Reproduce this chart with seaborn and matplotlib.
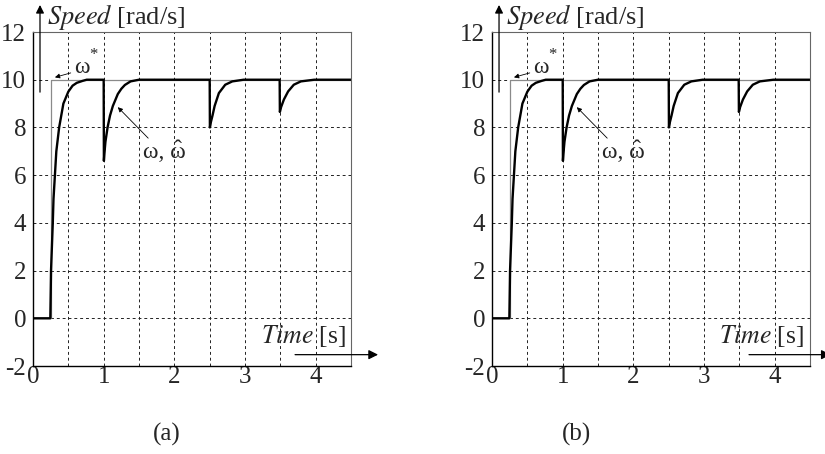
import matplotlib
matplotlib.use("Agg")
import matplotlib.pyplot as plt
import matplotlib.transforms as mtransforms
import seaborn as sns
import pandas as pd

# Speed reference (step command) and measured/estimated speed response
t_ref = [0.0, 0.25, 0.25, 4.5]
w_ref = [0.0, 0.0, 10.0, 10.0]

t_speed = [0.0, 0.245, 0.255, 0.28, 0.29, 0.31, 0.33, 0.37, 0.43, 0.50, 0.56, 0.62, 0.70, 0.76, 1.00,
           1.003, 1.01, 1.025, 1.055, 1.09, 1.13, 1.20, 1.25, 1.30, 1.38, 1.50,
           2.50, 2.503, 2.515, 2.54, 2.57, 2.63, 2.72, 2.82, 2.98,
           3.49, 3.493, 3.51, 3.55, 3.61, 3.69, 3.79, 3.98, 4.5]
w_speed = [0.0, 0.0, 2.0, 4.0, 5.0, 6.0, 7.0, 8.0, 9.0, 9.5, 9.75, 9.87, 9.95, 10.0, 10.0,
           6.6, 6.9, 7.4, 8.0, 8.5, 8.9, 9.4, 9.62, 9.78, 9.93, 10.0,
           10.0, 8.0, 8.2, 8.5, 8.9, 9.44, 9.79, 9.93, 10.0,
           10.0, 8.65, 8.85, 9.17, 9.51, 9.79, 9.93, 10.0, 10.0]

x_ticks = [0, 1, 2, 3, 4]
x_grid = [0.5, 1.5, 2.5, 3.5]
y_ticks = [-2, 0, 2, 4, 6, 8, 10, 12]
panel_tags = ["(a)", "(b)"]

sns.set_style("white")
plt.rcParams["font.family"] = ["Liberation Serif", "DejaVu Serif"]
plt.rcParams["mathtext.fontset"] = "stix"

ref_df = pd.DataFrame({"t": t_ref, "w": w_ref})
speed_df = pd.DataFrame({"t": t_speed, "w": w_speed})

fig = plt.figure(figsize=(8.25, 4.54), dpi=100)
lefts = [0.040, 0.5964]
arrow_x_end = [1.085, 1.065]
time_x = [0.718, 0.714]
tag_x = [0.202, 0.699]

est_labels = []
for i, left in enumerate(lefts):
    ax = fig.add_axes([left, 0.1938, 0.3855, 0.7357])
    sns.lineplot(data=ref_df, x="t", y="w", ax=ax, color="#8a8a8a", lw=0.9,
                 estimator=None, sort=False)
    sns.lineplot(data=speed_df, x="t", y="w", ax=ax, color="black", lw=1.7,
                 estimator=None, sort=False)

    ax.set_xlim(0, 4.5)
    ax.set_ylim(-2, 12)
    ax.set_xticks(x_ticks)
    ax.set_xticks(x_grid, minor=True)
    ax.set_yticks(y_ticks)
    ax.set_xticklabels([str(v) for v in x_ticks], fontsize=18)
    ax.set_yticklabels([str(v) for v in y_ticks], fontsize=18)
    ax.tick_params(axis="both", which="both", length=0)
    ax.tick_params(axis="x", pad=0)
    ax.tick_params(axis="y", pad=5)
    ax.set_xlabel("")
    ax.set_ylabel("")
    ax.grid(True, which="both", color="#222222", lw=0.7, linestyle=(0, (3, 3)))
    ax.set_axisbelow(True)
    for side in ["left", "bottom"]:
        ax.spines[side].set_color("black")
        ax.spines[side].set_linewidth(1.0)
    for side in ["top", "right"]:
        ax.spines[side].set_color("#666666")
        ax.spines[side].set_linewidth(0.8)

    # axis arrows and axis titles
    ax.annotate("", xy=(0.022, 1.081), xytext=(0.022, 0.82), xycoords="axes fraction",
                textcoords="axes fraction",
                arrowprops=dict(arrowstyle="-|>", color="black", lw=0.9,
                                mutation_scale=12, shrinkA=0, shrinkB=0),
                annotation_clip=False)
    ax.text(0.045, 1.045, r"$\mathit{Speed}$ [rad/s]", transform=ax.transAxes,
            fontsize=19, ha="left", va="center", clip_on=False)
    ax.annotate("", xy=(arrow_x_end[i], 0.034), xytext=(0.824 - 0.016 * i, 0.034),
                xycoords="axes fraction", textcoords="axes fraction",
                arrowprops=dict(arrowstyle="-|>", color="black", lw=0.9,
                                mutation_scale=14, shrinkA=0, shrinkB=0),
                annotation_clip=False)
    ax.text(time_x[i], 0.09, r"$\mathit{Time}$ [s]", transform=ax.transAxes,
            fontsize=18.5, ha="left", va="center", clip_on=False)

    # curve labels
    ax.annotate("ω", xy=(0.31, 10.1), xytext=(0.58, 10.5),
                fontsize=17, ha="left", va="center",
                arrowprops=dict(arrowstyle="-|>", color="black", lw=0.6,
                                mutation_scale=7, shrinkA=0, shrinkB=0,
                                relpos=(0.0, 0.3)))
    ax.text(0.80, 11.05, "*", fontsize=12, ha="left", va="center")
    ax.annotate("", xy=(1.2, 8.85), xytext=(1.63, 7.55),
                arrowprops=dict(arrowstyle="-|>", color="black", lw=0.6,
                                mutation_scale=7, shrinkA=0, shrinkB=0))
    lab = ax.text(1.55, 6.73, "ω, ω", fontsize=17, ha="left", va="baseline")
    est_labels.append((ax, lab))

    fig.text(tag_x[i], 0.042, panel_tags[i], fontsize=18, ha="center", va="center")

# circumflex over the estimated-speed symbol
fig.canvas.draw()
renderer = fig.canvas.get_renderer()
probe = fig.text(0, 0, "ω", fontsize=17)
w_omega = probe.get_window_extent(renderer).width
probe.remove()
for ax, lab in est_labels:
    w_lab = lab.get_window_extent(renderer).width
    shift = (w_lab - w_omega / 2) * 72.0 / fig.dpi
    tr = mtransforms.offset_copy(ax.transData, fig=fig, x=shift, y=1.0, units="points")
    ax.text(1.55, 6.73, "ˆ", fontsize=17, ha="center", va="baseline", transform=tr)

fig.savefig("out.png", dpi=100)
